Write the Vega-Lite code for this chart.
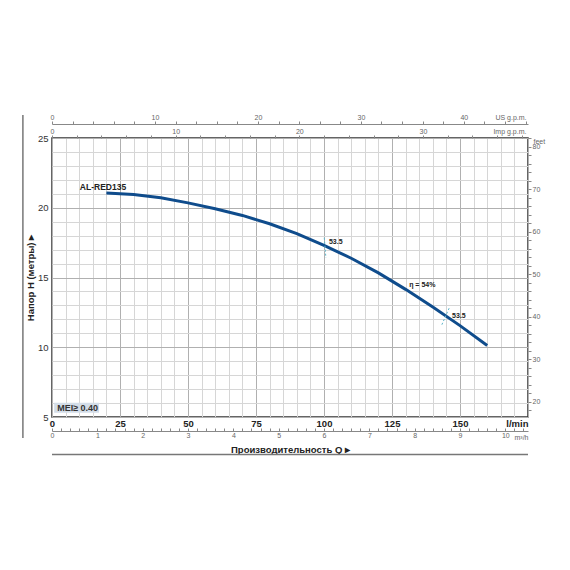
{
  "$schema": "https://vega.github.io/schema/vega-lite/v6.json",
  "autosize": {"type": "none"},
  "width": 476,
  "height": 279,
  "padding": {"left": 52, "top": 138, "right": 42, "bottom": 153},
  "background": "white",
  "config": {
    "font": "Liberation Sans Narrow, Liberation Sans, Arial, sans-serif",
    "view": {"stroke": "#333333", "strokeWidth": 1.5}
  },
  "datasets": {
    "curve": [
      {"Q": 20, "H": 21.06},
      {"Q": 30, "H": 20.95},
      {"Q": 40, "H": 20.72},
      {"Q": 50, "H": 20.35},
      {"Q": 60, "H": 19.93},
      {"Q": 70, "H": 19.45},
      {"Q": 80, "H": 18.85},
      {"Q": 90, "H": 18.15},
      {"Q": 100, "H": 17.3},
      {"Q": 110, "H": 16.38},
      {"Q": 120, "H": 15.33},
      {"Q": 130, "H": 14.15},
      {"Q": 140, "H": 12.88},
      {"Q": 150, "H": 11.55},
      {"Q": 160, "H": 10.12}
    ],
    "one": [{}],
    "m3h": [{"m3h": 0}, {"m3h": 10.5}],
    "usgpm": [{"usgpm": 0}, {"usgpm": 46.23}],
    "impgpm": [{"impgpm": 0}, {"impgpm": 38.49}],
    "feet": [{"ft": 16.404}, {"ft": 82.021}]
  },
  "layer": [
    {
      "resolve": {"axis": {"x": "independent", "y": "independent"}},
      "layer": [
        {
          "data": {"name": "curve"},
          "mark": {"type": "line", "color": "#0f4c8c", "strokeWidth": 3, "strokeCap": "butt"},
          "encoding": {
            "x": {
              "field": "Q",
              "type": "quantitative",
              "scale": {"domain": [0, 175], "nice": false, "zero": false},
              "axis": {
                "orient": "bottom",
                "values": [0, 5, 10, 15, 20, 25, 30, 35, 40, 45, 50, 55, 60, 65, 70, 75, 80, 85, 90, 95, 100, 105, 110, 115, 120, 125, 130, 135, 140, 145, 150, 155, 160, 165, 170, 175],
                "labelExpr": "datum.value === 175 ? 'l/min' : (datum.value % 25 === 0 ? datum.label : '')",
                "labelAlign": {"condition": {"test": "datum.value === 175", "value": "right"}, "value": "center"},
                "labelFlush": false,
                "labelOverlap": false,
                "labelFontWeight": "bold",
                "labelFontSize": 9.5,
                "labelColor": "#222222",
                "labelPadding": 1,
                "ticks": false,
                "domain": false,
                "grid": true,
                "gridColor": {"condition": {"test": "datum.value % 25 === 0", "value": "#b0b0b0"}, "value": "#d6d6d6"},
                "gridWidth": 1,
                "title": "Производительность Q ▸",
                "titleFontWeight": "bold",
                "titleFontSize": 9.5,
                "titleColor": "#222222",
                "titleBaseline": "middle",
                "titleY": 32
              }
            },
            "y": {
              "field": "H",
              "type": "quantitative",
              "scale": {"domain": [5, 25], "nice": false, "zero": false},
              "axis": {
                "orient": "left",
                "values": [5, 6, 7, 8, 9, 10, 11, 12, 13, 14, 15, 16, 17, 18, 19, 20, 21, 22, 23, 24, 25],
                "labelExpr": "datum.value % 5 === 0 ? datum.label : ''",
                "labelOverlap": false,
                "labelFlush": false,
                "labelFontSize": 9.5,
                "labelColor": "#333333",
                "labelPadding": 4,
                "ticks": false,
                "domain": false,
                "grid": true,
                "gridColor": {"condition": {"test": "datum.value % 5 === 0", "value": "#b0b0b0"}, "value": "#d6d6d6"},
                "gridWidth": 1,
                "title": "Напор H (метры) ▸",
                "titleFontWeight": "bold",
                "titleFontSize": 9.5,
                "titleColor": "#222222",
                "titleBaseline": "middle",
                "titleX": -22
              }
            }
          }
        },
        {
          "data": {"name": "one"},
          "mark": {"type": "rule", "color": "#5db5c9", "strokeWidth": 1, "strokeDash": [2, 2]},
          "encoding": {
            "x": {"datum": 100.1, "type": "quantitative", "axis": null},
            "x2": {"datum": 100.7},
            "y": {"datum": 17.85, "type": "quantitative", "axis": null},
            "y2": {"datum": 16.4}
          }
        },
        {
          "data": {"name": "one"},
          "mark": {"type": "rule", "color": "#5db5c9", "strokeWidth": 1, "strokeDash": [2, 2]},
          "encoding": {
            "x": {"datum": 146.0, "type": "quantitative", "axis": null},
            "x2": {"datum": 143.3},
            "y": {"datum": 12.8, "type": "quantitative", "axis": null},
            "y2": {"datum": 11.6}
          }
        },
        {
          "data": {"name": "one"},
          "mark": {"type": "text", "fontWeight": "bold", "fontSize": 8.5, "color": "#222222", "align": "center", "baseline": "middle"},
          "encoding": {
            "x": {"datum": 18.75, "type": "quantitative", "axis": null},
            "y": {"datum": 21.5, "type": "quantitative", "axis": null},
            "text": {"value": "AL-RED135"}
          }
        },
        {
          "data": {"name": "one"},
          "mark": {"type": "text", "fontWeight": "bold", "fontSize": 7, "color": "#222222", "align": "left", "baseline": "middle"},
          "encoding": {
            "x": {"datum": 101.8, "type": "quantitative", "axis": null},
            "y": {"datum": 17.55, "type": "quantitative", "axis": null},
            "text": {"value": "53.5"}
          }
        },
        {
          "data": {"name": "one"},
          "mark": {"type": "text", "fontWeight": "bold", "fontSize": 7, "color": "#222222", "align": "left", "baseline": "middle"},
          "encoding": {
            "x": {"datum": 131.3, "type": "quantitative", "axis": null},
            "y": {"datum": 14.46, "type": "quantitative", "axis": null},
            "text": {"value": "η = 54%"}
          }
        },
        {
          "data": {"name": "one"},
          "mark": {"type": "text", "fontWeight": "bold", "fontSize": 7, "color": "#222222", "align": "left", "baseline": "middle"},
          "encoding": {
            "x": {"datum": 147.1, "type": "quantitative", "axis": null},
            "y": {"datum": 12.24, "type": "quantitative", "axis": null},
            "text": {"value": "53.5"}
          }
        },
        {
          "data": {"name": "one"},
          "mark": {"type": "rect", "fill": "#d3dde8"},
          "encoding": {
            "x": {"datum": 0.8, "type": "quantitative", "axis": null},
            "x2": {"datum": 17.3},
            "y": {"datum": 6.02, "type": "quantitative", "axis": null},
            "y2": {"datum": 5.3}
          }
        },
        {
          "data": {"name": "one"},
          "mark": {"type": "text", "fontWeight": "bold", "fontSize": 9, "color": "#333333", "align": "left", "baseline": "middle"},
          "encoding": {
            "x": {"datum": 1.9, "type": "quantitative", "axis": null},
            "y": {"datum": 5.66, "type": "quantitative", "axis": null},
            "text": {"value": "MEI≥ 0.40"}
          }
        },
        {
          "data": {"name": "one"},
          "mark": {"type": "rule", "color": "#777777", "strokeWidth": 1.5},
          "encoding": {
            "x": {"datum": -10.7, "type": "quantitative", "axis": null},
            "y": {"datum": 26.65, "type": "quantitative", "axis": null},
            "y2": {"datum": 3.5}
          }
        },
        {
          "data": {"name": "one"},
          "mark": {"type": "rule", "color": "#777777", "strokeWidth": 1.5},
          "encoding": {
            "x": {"datum": 0, "type": "quantitative", "axis": null},
            "x2": {"datum": 175},
            "y": {"datum": 2.31, "type": "quantitative", "axis": null}
          }
        }
      ]
    },
    {
      "data": {"name": "m3h"},
      "mark": {"type": "point", "opacity": 0},
      "encoding": {
        "x": {
          "field": "m3h",
          "type": "quantitative",
          "scale": {"domain": [0, 10.5], "nice": false, "zero": false},
          "axis": {
            "orient": "bottom",
            "offset": 14,
            "values": [0, 0.2, 0.4, 0.6, 0.8, 1, 1.2, 1.4, 1.6, 1.8, 2, 2.2, 2.4, 2.6, 2.8, 3, 3.2, 3.4, 3.6, 3.8, 4, 4.2, 4.4, 4.6, 4.8, 5, 5.2, 5.4, 5.6, 5.8, 6, 6.2, 6.4, 6.6, 6.8, 7, 7.2, 7.4, 7.6, 7.8, 8, 8.2, 8.4, 8.6, 8.8, 9, 9.2, 9.4, 9.6, 9.8, 10, 10.2, 10.4],
            "labelExpr": "datum.value % 1 === 0 ? format(datum.value, 'd') : ''",
            "labelOverlap": false,
            "labelFlush": false,
            "labelFontSize": 7,
            "labelColor": "#666666",
            "labelPadding": 3,
            "tickSize": -3,
            "tickColor": "#888888",
            "domainColor": "#888888",
            "grid": false,
            "title": "m³/h",
            "titleFontSize": 7,
            "titleFontWeight": "normal",
            "titleColor": "#666666",
            "titleAlign": "right",
            "titleBaseline": "middle",
            "titleX": 476,
            "titleY": 6
          }
        }
      }
    },
    {
      "data": {"name": "usgpm"},
      "mark": {"type": "point", "opacity": 0},
      "encoding": {
        "x": {
          "field": "usgpm",
          "type": "quantitative",
          "scale": {"domain": [0, 46.23], "nice": false, "zero": false},
          "axis": {
            "orient": "top",
            "offset": 14,
            "values": [0, 2, 4, 6, 8, 10, 12, 14, 16, 18, 20, 22, 24, 26, 28, 30, 32, 34, 36, 38, 40, 42, 44, 46],
            "labelExpr": "datum.value % 10 === 0 ? datum.label : ''",
            "labelOverlap": false,
            "labelFlush": false,
            "labelFontSize": 7,
            "labelColor": "#666666",
            "labelPadding": 1,
            "tickSize": 3,
            "tickColor": "#888888",
            "domainColor": "#888888",
            "grid": false,
            "title": "US g.p.m.",
            "titleFontSize": 7,
            "titleFontWeight": "normal",
            "titleColor": "#666666",
            "titleAlign": "right",
            "titleBaseline": "middle",
            "titleX": 474,
            "titleY": -7
          }
        }
      }
    },
    {
      "data": {"name": "impgpm"},
      "mark": {"type": "point", "opacity": 0},
      "encoding": {
        "x": {
          "field": "impgpm",
          "type": "quantitative",
          "scale": {"domain": [0, 38.49], "nice": false, "zero": false},
          "axis": {
            "orient": "top",
            "offset": 0,
            "values": [0, 2, 4, 6, 8, 10, 12, 14, 16, 18, 20, 22, 24, 26, 28, 30, 32, 34, 36, 38],
            "labelExpr": "datum.value % 10 === 0 ? datum.label : ''",
            "labelOverlap": false,
            "labelFlush": false,
            "labelFontSize": 7,
            "labelColor": "#666666",
            "labelPadding": 1,
            "tickSize": 3,
            "tickColor": "#888888",
            "domain": false,
            "grid": false,
            "title": "Imp g.p.m.",
            "titleFontSize": 7,
            "titleFontWeight": "normal",
            "titleColor": "#666666",
            "titleAlign": "right",
            "titleBaseline": "middle",
            "titleX": 474,
            "titleY": -7
          }
        }
      }
    },
    {
      "data": {"name": "feet"},
      "mark": {"type": "point", "opacity": 0},
      "encoding": {
        "y": {
          "field": "ft",
          "type": "quantitative",
          "scale": {"domain": [16.404, 82.021], "nice": false, "zero": false},
          "axis": {
            "orient": "right",
            "offset": 0,
            "values": [18, 20, 22, 24, 26, 28, 30, 32, 34, 36, 38, 40, 42, 44, 46, 48, 50, 52, 54, 56, 58, 60, 62, 64, 66, 68, 70, 72, 74, 76, 78, 80, 82],
            "labelExpr": "datum.value % 10 === 0 ? datum.label : ''",
            "labelOverlap": false,
            "labelFlush": false,
            "labelFontSize": 7,
            "labelColor": "#666666",
            "labelPadding": 1,
            "tickSize": 3,
            "tickColor": "#888888",
            "domain": false,
            "grid": false,
            "title": "feet",
            "titleAngle": 0,
            "titleFontSize": 7,
            "titleFontWeight": "normal",
            "titleColor": "#666666",
            "titleAlign": "left",
            "titleBaseline": "middle",
            "titleX": 5,
            "titleY": 3
          }
        }
      }
    }
  ],
  "resolve": {
    "scale": {"x": "independent", "y": "independent"},
    "axis": {"x": "independent", "y": "independent"}
  }
}
